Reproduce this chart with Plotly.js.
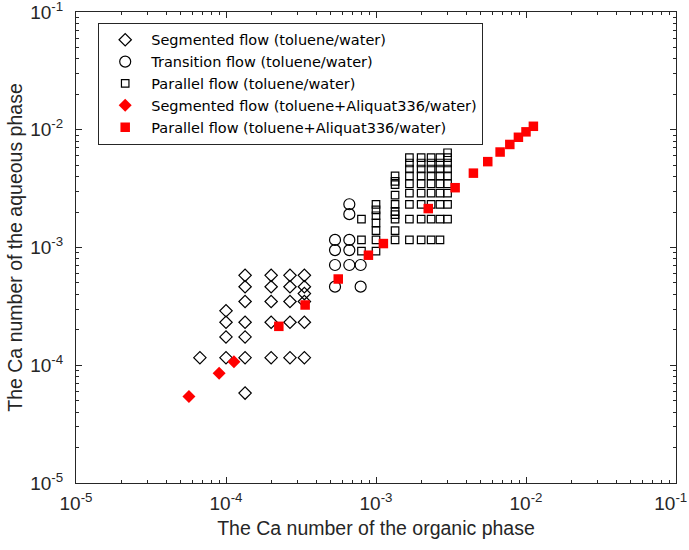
<!DOCTYPE html>
<html>
<head>
<meta charset="utf-8">
<script src="https://cdn.plot.ly/plotly-3.0.1.min.js"></script>
<style>html,body{margin:0;padding:0;background:#fff;}#chart{width:689px;height:550px;}</style>
</head>
<body>
<div id="chart"></div>
<script>
// Segmented flow (toluene/water) - open diamonds
const segX = [6.7e-5,
  1.0e-4, 1.0e-4, 1.0e-4, 1.0e-4,
  1.34e-4, 1.34e-4, 1.34e-4, 1.34e-4, 1.34e-4, 1.34e-4, 1.34e-4,
  2.0e-4, 2.0e-4, 2.0e-4, 2.0e-4, 2.0e-4,
  2.67e-4, 2.67e-4, 2.67e-4, 2.67e-4, 2.67e-4,
  3.33e-4, 3.33e-4, 3.33e-4, 3.33e-4, 3.33e-4, 3.33e-4];
const segY = [1.16e-4,
  1.16e-4, 1.74e-4, 2.32e-4, 2.9e-4,
  5.8e-5, 1.16e-4, 1.74e-4, 2.32e-4, 3.48e-4, 4.64e-4, 5.8e-4,
  1.16e-4, 2.32e-4, 3.48e-4, 4.64e-4, 5.8e-4,
  1.16e-4, 2.32e-4, 3.48e-4, 4.64e-4, 5.8e-4,
  1.16e-4, 2.32e-4, 3.48e-4, 4.06e-4, 4.64e-4, 5.8e-4];

// Transition flow (toluene/water) - open circles
const traX = [5.33e-4, 5.33e-4, 5.33e-4, 5.33e-4,
  6.64e-4, 6.64e-4, 6.64e-4, 6.64e-4, 6.64e-4,
  7.9e-4, 7.9e-4];
const traY = [1.16e-3, 9.5e-4, 7.1e-4, 4.65e-4,
  2.33e-3, 1.92e-3, 1.16e-3, 9.5e-4, 7.1e-4,
  7.1e-4, 4.65e-4];

// Parallel flow (toluene/water) - open squares
const parX = [8.0e-4, 8.0e-4, 8.0e-4,
  1.0e-3, 1.0e-3, 1.0e-3, 1.0e-3, 1.0e-3, 1.0e-3, 1.0e-3,
  1.34e-3, 1.34e-3, 1.34e-3, 1.34e-3, 1.34e-3, 1.34e-3, 1.34e-3, 1.34e-3, 1.34e-3, 1.34e-3,
  1.67e-3, 1.67e-3, 1.67e-3, 1.67e-3, 1.67e-3, 1.67e-3, 1.67e-3, 1.67e-3, 1.67e-3,
  2.0e-3, 2.0e-3, 2.0e-3, 2.0e-3, 2.0e-3, 2.0e-3, 2.0e-3, 2.0e-3, 2.0e-3,
  2.33e-3, 2.33e-3, 2.33e-3, 2.33e-3, 2.33e-3, 2.33e-3, 2.33e-3, 2.33e-3, 2.33e-3,
  2.67e-3, 2.67e-3, 2.67e-3, 2.67e-3, 2.67e-3, 2.67e-3, 2.67e-3, 2.67e-3, 2.67e-3,
  3.0e-3, 3.0e-3, 3.0e-3, 3.0e-3, 3.0e-3, 3.0e-3, 3.0e-3, 3.0e-3, 3.0e-3];
const parY = [1.74e-3, 1.16e-3, 9.3e-4,
  2.32e-3, 2.09e-3, 1.86e-3, 1.62e-3, 1.39e-3, 1.16e-3, 9.3e-4,
  4.06e-3, 3.65e-3, 3.42e-3, 2.78e-3, 2.32e-3, 2.03e-3, 1.9e-3, 1.74e-3, 1.39e-3, 1.16e-3,
  5.8e-3, 5.22e-3, 4.64e-3, 4.06e-3, 3.48e-3, 2.9e-3, 2.32e-3, 1.74e-3, 1.16e-3,
  5.8e-3, 5.22e-3, 4.64e-3, 4.06e-3, 3.48e-3, 2.9e-3, 2.32e-3, 1.74e-3, 1.16e-3,
  5.8e-3, 5.22e-3, 4.64e-3, 4.06e-3, 3.48e-3, 2.9e-3, 2.32e-3, 1.74e-3, 1.16e-3,
  5.8e-3, 5.22e-3, 4.64e-3, 4.06e-3, 3.48e-3, 2.9e-3, 2.32e-3, 1.74e-3, 1.16e-3,
  6.38e-3, 5.8e-3, 5.22e-3, 4.64e-3, 4.06e-3, 3.48e-3, 2.9e-3, 2.32e-3, 1.74e-3];

// Segmented flow (toluene+Aliquat336/water) - filled red diamonds
const segAqX = [5.66e-5, 9.0e-5, 1.13e-4];
const segAqY = [5.43e-5, 8.55e-5, 1.07e-4];

// Parallel flow (toluene+Aliquat336/water) - filled red squares
const parAqX = [2.25e-4, 3.37e-4, 5.6e-4, 8.9e-4, 1.12e-3, 2.23e-3, 3.37e-3, 4.46e-3, 5.56e-3, 6.72e-3, 7.8e-3, 8.9e-3, 1.0e-2, 1.12e-2];
const parAqY = [2.14e-4, 3.25e-4, 5.4e-4, 8.6e-4, 1.08e-3, 2.14e-3, 3.22e-3, 4.28e-3, 5.36e-3, 6.47e-3, 7.5e-3, 8.63e-3, 9.6e-3, 1.07e-2];

// Tick labels (decades)
const tickVals = [1e-5, 1e-4, 1e-3, 1e-2, 1e-1];
const xTickText = ['10<sup>-5</sup>', '10<sup>-4</sup>', '10<sup>-3</sup>', '10<sup>-2</sup>', '10<sup>-1</sup>\u00A0\u00A0'];
const yTickText = ['10<sup>-5</sup>', '10<sup>-4</sup>', '10<sup>-3</sup>', '10<sup>-2</sup>', '10<sup>-1</sup>'];

const seriesNames = [
  'Segmented flow (toluene/water)',
  'Transition flow (toluene/water)',
  'Parallel flow (toluene/water)',
  'Segmented flow (toluene+Aliquat336/water)',
  'Parallel flow (toluene+Aliquat336/water)'
];
const xTitle = 'The Ca number of the organic phase';
const yTitle = 'The Ca number of the aqueous phase';

const axisColor = '#262626';
const fontFam = '"Liberation Sans", Arial, sans-serif';
const legendFam = '"DejaVu Sans", "Liberation Sans", sans-serif';

const traces = [
  {x: segX, y: segY, name: seriesNames[0], type: 'scatter', mode: 'markers',
   marker: {symbol: 'diamond-open', size: 9.5, color: '#000', line: {width: 1.2, color: '#000'}}},
  {x: traX, y: traY, name: seriesNames[1], type: 'scatter', mode: 'markers',
   marker: {symbol: 'circle-open', size: 11, color: '#000', line: {width: 1.2, color: '#000'}}},
  {x: parX, y: parY, name: seriesNames[2], type: 'scatter', mode: 'markers',
   marker: {symbol: 'square-open', size: 7.5, color: '#000', line: {width: 1.2, color: '#000'}}},
  {x: segAqX, y: segAqY, name: seriesNames[3], type: 'scatter', mode: 'markers',
   marker: {symbol: 'diamond', size: 10, color: '#ff0000', line: {width: 0}}},
  {x: parAqX, y: parAqY, name: seriesNames[4], type: 'scatter', mode: 'markers',
   marker: {symbol: 'square', size: 9.5, color: '#ff0000', line: {width: 0}}}
];

const axisCommon = {
  type: 'log', range: [-5, -1],
  tickmode: 'array', tickvals: tickVals,
  ticks: 'inside', ticklen: 6, tickwidth: 1, tickcolor: axisColor,
  ticklabeloverflow: 'allow',
  showline: true, linecolor: axisColor, linewidth: 1, mirror: 'ticks',
  showgrid: false, zeroline: false,
  tickfont: {family: fontFam, size: 19, color: axisColor},
  minor: {ticks: 'inside', ticklen: 3, tickcolor: axisColor, showgrid: false, dtick: 'D1'}
};

const layout = {
  width: 689, height: 550,
  margin: {l: 76, r: 13, t: 12, b: 67},
  paper_bgcolor: '#fff', plot_bgcolor: '#fff',
  font: {family: fontFam, color: axisColor},
  showlegend: true,
  legend: {
    x: 0.037, y: 0.977, xanchor: 'left', yanchor: 'top',
    bgcolor: '#fff', bordercolor: axisColor, borderwidth: 1,
    font: {family: legendFam, size: 14.5, color: '#000'},
    itemsizing: 'trace', itemwidth: 42
  },
  xaxis: Object.assign({}, axisCommon, {
    ticktext: xTickText,
    ticklabelstandoff: 3,
    title: {text: xTitle, font: {family: fontFam, size: 19.5, color: axisColor}, standoff: 8}
  }),
  yaxis: Object.assign({}, axisCommon, {
    ticktext: yTickText,
    ticklabelstandoff: 8,
    title: {text: yTitle, font: {family: fontFam, size: 19.5, color: axisColor}, standoff: 2}
  })
};

Plotly.newPlot('chart', traces, layout, {displayModeBar: false, staticPlot: true});
</script>
</body>
</html>
